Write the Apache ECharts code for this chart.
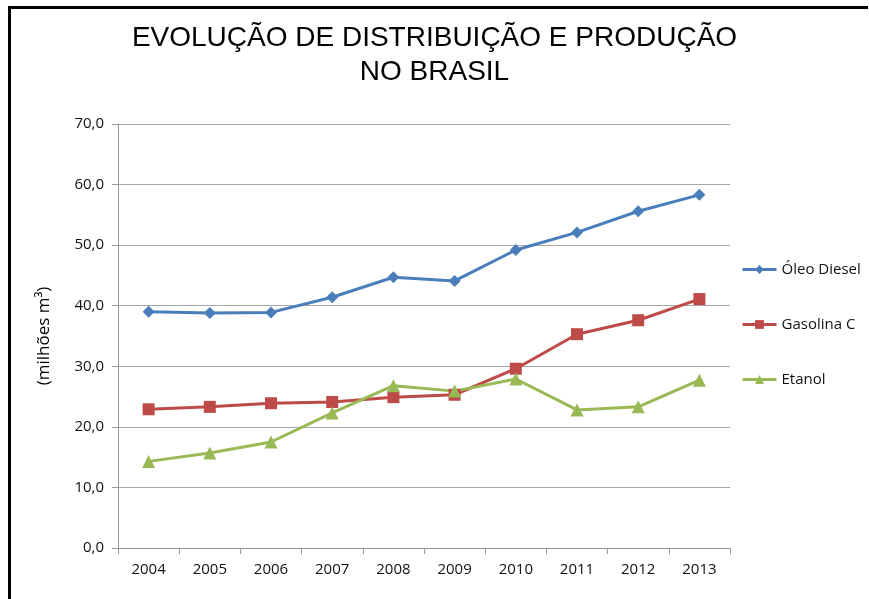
<!DOCTYPE html>
<html>
<head>
<meta charset="utf-8">
<script src="https://cdn.jsdelivr.net/npm/echarts@6/dist/echarts.min.js"></script>
<style>
  html, body { margin: 0; padding: 0; background: #fff; }
  #chart { width: 869px; height: 599px; }
  #frame { position: absolute; left: 8px; top: 6px; width: 857px; height: 600px;
           border-top: 3px solid #000; border-left: 3px solid #000; pointer-events: none; }
</style>
</head>
<body>
<div id="chart"></div>
<div id="frame"></div>
<script>
// dados
var anos = ['2004', '2005', '2006', '2007', '2008', '2009', '2010', '2011', '2012', '2013'];
var oleoDiesel = [39.0, 38.8, 38.9, 41.4, 44.7, 44.1, 49.2, 52.1, 55.6, 58.3];
var gasolinaC  = [22.9, 23.3, 23.9, 24.1, 24.9, 25.3, 29.6, 35.3, 37.6, 41.1];
var etanol     = [14.3, 15.7, 17.5, 22.3, 26.8, 25.9, 27.9, 22.8, 23.3, 27.7];

var myChart = echarts.init(document.getElementById('chart'));

var fonte = 'Open Sans, Noto Sans, sans-serif';

option = {
    backgroundColor: '#fff',
    animation: false,
    title: {
        text: 'EVOLUÇÃO DE DISTRIBUIÇÃO E PRODUÇÃO\nNO BRASIL',
        left: 'center',
        top: 16,
        textStyle: {
            color: '#000',
            fontFamily: 'Liberation Sans, Arial, sans-serif',
            fontSize: 28,
            fontWeight: 'normal',
            lineHeight: 34
        }
    },
    legend: {
        orient: 'vertical',
        left: 736,
        top: 257,
        itemWidth: 34,
        itemHeight: 11,
        itemGap: 40,
        lineStyle: { width: 3 },
        textStyle: { color: '#111', fontFamily: fonte, fontSize: 15 },
        data: ['Óleo Diesel', 'Gasolina C', 'Etanol']
    },
    grid: {
        left: 118,
        right: 139,
        top: 124,
        bottom: 51,
        containLabel: false
    },
    xAxis: {
        type: 'category',
        data: anos,
        boundaryGap: true,
        axisLine: { lineStyle: { color: '#999', width: 1 } },
        axisTick: { show: true, length: 6, lineStyle: { color: '#999' } },
        axisLabel: { color: '#111', fontFamily: fonte, fontSize: 15, margin: 14 }
    },
    yAxis: {
        type: 'value',
        min: 0,
        max: 70,
        interval: 10,
        name: '(milhões m³)',
        nameLocation: 'middle',
        nameGap: 65,
        nameRotate: 90,
        nameTextStyle: { color: '#000', fontFamily: fonte, fontSize: 17 },
        axisLine: { show: true, lineStyle: { color: '#999', width: 1 } },
        axisTick: { show: true, length: 6, lineStyle: { color: '#999' } },
        splitLine: { lineStyle: { color: '#a6a6a6', width: 1 } },
        axisLabel: {
            color: '#111',
            fontFamily: fonte,
            fontSize: 15,
            margin: 14,
            formatter: function (v) { return v.toFixed(1).replace('.', ','); }
        }
    },
    series: [
        {
            name: 'Óleo Diesel',
            type: 'line',
            data: oleoDiesel,
            symbol: 'diamond',
            symbolSize: 12,
            lineStyle: { width: 3, color: '#4a7ebb' },
            itemStyle: { color: '#4a7ebb' }
        },
        {
            name: 'Gasolina C',
            type: 'line',
            data: gasolinaC,
            symbol: 'rect',
            symbolSize: 12,
            lineStyle: { width: 3, color: '#be4b48' },
            itemStyle: { color: '#be4b48' }
        },
        {
            name: 'Etanol',
            type: 'line',
            data: etanol,
            symbol: 'triangle',
            symbolSize: 13,
            lineStyle: { width: 3, color: '#98b954' },
            itemStyle: { color: '#98b954' }
        }
    ]
};

myChart.setOption(option);
window.addEventListener('resize', function () {
    myChart.resize();
});
</script>
</body>
</html>
